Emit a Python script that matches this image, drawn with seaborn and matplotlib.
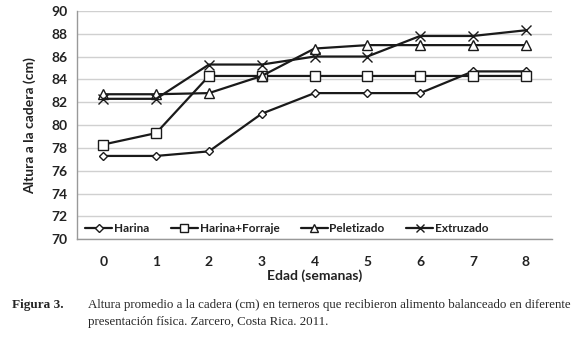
import matplotlib
matplotlib.use("Agg")
import matplotlib.pyplot as plt
import seaborn as sns
import pandas as pd
from matplotlib.ticker import FixedLocator

weeks = [0, 1, 2, 3, 4, 5, 6, 7, 8]
harina = [77.3, 77.3, 77.7, 81.0, 82.8, 82.8, 82.8, 84.7, 84.7]
harina_forraje = [78.3, 79.3, 84.3, 84.3, 84.3, 84.3, 84.3, 84.3, 84.3]
peletizado = [82.7, 82.7, 82.8, 84.3, 86.7, 87.0, 87.0, 87.0, 87.0]
extruzado = [82.3, 82.3, 85.3, 85.3, 86.0, 86.0, 87.8, 87.8, 88.3]
series_names = ["Harina", "Harina+Forraje", "Peletizado", "Extruzado"]
yticks = list(range(70, 91, 2))

sns.set_theme(style="white")
plt.rcParams["font.family"] = ["Lato", "DejaVu Sans"]

rows = []
for name, vals in zip(series_names, [harina, harina_forraje, peletizado, extruzado]):
    for w, v in zip(weeks, vals):
        rows.append({"Edad": w, "Altura": v, "Serie": name})
df = pd.DataFrame(rows)

fig = plt.figure(figsize=(5.83, 3.39), dpi=100)
ax = fig.add_axes([0.132, 0.294, 0.815, 0.674])

markers = {"Harina": "D", "Harina+Forraje": "s", "Peletizado": "^", "Extruzado": "x"}
sizes = {"Harina": 4.5, "Harina+Forraje": 7, "Peletizado": 7, "Extruzado": 7}
for name in series_names:
    sub = df[df["Serie"] == name]
    sns.lineplot(data=sub, x="Edad", y="Altura", ax=ax, color="#1a1a1a", lw=1.6,
                 marker=markers[name], markersize=sizes[name], markerfacecolor="white",
                 markeredgecolor="#1a1a1a", markeredgewidth=1.0, label=name)

ax.set_xlim(-0.5, 8.5)
ax.set_ylim(70, 90)
ax.set_yticks(yticks)
ax.set_xticks(weeks)
ax.xaxis.set_minor_locator(FixedLocator([x - 0.5 for x in range(10)]))
ax.tick_params(axis="x", which="major", length=0, labelsize=10, pad=12)
ax.tick_params(axis="x", which="minor", length=4, width=1, color="#999999", direction="out")
ax.tick_params(axis="y", length=4, width=1, color="#999999", direction="out", labelsize=10, pad=3)
ax.yaxis.grid(True, color="#d0d0d0", lw=1)
ax.set_axisbelow(True)
for lab in ax.get_xticklabels() + ax.get_yticklabels():
    lab.set_fontweight("bold")
    lab.set_color("#222222")
for s in ["top", "right"]:
    ax.spines[s].set_visible(False)
for s in ["left", "bottom"]:
    ax.spines[s].set_color("#999999")
    ax.spines[s].set_linewidth(1)

ax.set_xlabel("Edad (semanas)", fontsize=10, fontweight="bold", color="#222222", labelpad=1)
ax.set_ylabel("Altura a la cadera (cm)", fontsize=10, fontweight="bold", color="#222222", labelpad=11)

leg = ax.legend(loc="lower left", bbox_to_anchor=(-0.005, -0.025), ncol=4, frameon=False,
                handlelength=2.3, columnspacing=1.8, handletextpad=0.15, markerscale=0.85,
                prop={"weight": "bold", "size": 8.5})
for t in leg.get_texts():
    t.set_color("#222222")

fig.text(12 / 583, 1 - 305 / 339, "Figura 3.", family="Liberation Serif", fontsize=9.5,
         fontweight="bold", va="center")
fig.text(88 / 583, 1 - 305 / 339,
         "Altura promedio a la cadera (cm) en terneros que recibieron alimento balanceado en diferente",
         family="Liberation Serif", fontsize=9.3, va="center")
fig.text(88 / 583, 1 - 322 / 339, "presentación física. Zarcero, Costa Rica. 2011.",
         family="Liberation Serif", fontsize=9.3, va="center")

fig.savefig("out.png", dpi=100)
